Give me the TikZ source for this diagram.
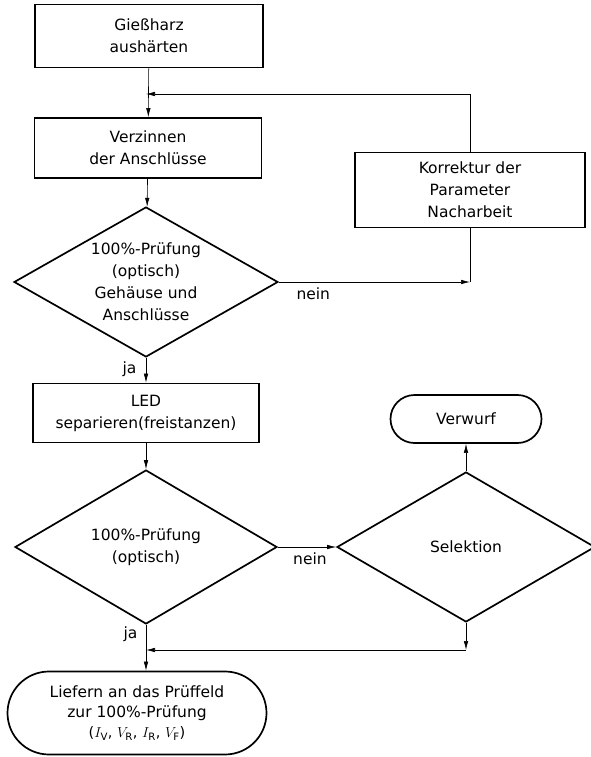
\documentclass[tikz,border=0pt]{standalone}
\usepackage{fontspec}
\setmainfont{DejaVu Sans}
\usetikzlibrary{shapes.geometric,shapes.misc,arrows.meta}
\begin{document}
\begin{tikzpicture}[x=1pt,y=-1pt,
    every node/.style={font=\fontsize{15.5}{22}\selectfont},
    box/.style={draw,line width=1.7pt,align=center,inner sep=2pt},
    rhomb/.style={draw,diamond,line width=1.7pt,align=center,inner sep=0pt,aspect=1.75},
    term/.style={draw,rounded rectangle,line width=1.7pt,align=center,inner sep=2pt},
    flow/.style={line width=0.6pt,-{Latex[length=9pt,width=4.5pt]}},
    link/.style={line width=0.6pt}]
  \useasboundingbox (0,0) rectangle (590,757);
  % left column: the main process
  \node[box,minimum width=228pt,minimum height=63pt] (harz) at (149,36) {Gießharz\\aushärten};
  \node[box,minimum width=227pt,minimum height=60pt] (verz) at (148,148) {Verzinnen\\der Anschlüsse};
  \node[rhomb,minimum width=264pt,minimum height=150pt] (pruef1) at (146,282)
       {100\%-Prüfung\\(optisch)\\Gehäuse und\\Anschlüsse};
  \node[box,minimum width=226pt,minimum height=59pt] (sep) at (146,413) {LED\\separieren(freistanzen)};
  \node[rhomb,minimum width=262pt,minimum height=154pt] (pruef2) at (146,547) {100\%-Prüfung\\(optisch)};
  \node[term,minimum width=263pt,minimum height=83pt,font=\fontsize{15.5}{20}\selectfont] (liefern) at (137,713)
       {Liefern an das Prüffeld\\zur 100\%-Prüfung\\{\fontsize{14.5}{17}\selectfont($I_{\mathrm{V}}$, $V_{\mathrm{R}}$, $I_{\mathrm{R}}$, $V_{\mathrm{F}}$)}};
  % right column: correction and selection
  \node[box,minimum width=230pt,minimum height=75pt] (korr) at (470,190) {Korrektur der\\Parameter\\Nacharbeit};
  \node[term,minimum width=155pt,minimum height=48pt] (verw) at (466,419) {Verwurf};
  \node[rhomb,minimum width=258pt,minimum height=150pt] (sel) at (466,547) {Selektion};
  % joints on the main line
  \coordinate (m1) at (146,94);
  \coordinate (c1) at (470,282);
  \coordinate (c2) at (466,650);
  \coordinate (m2) at (146,650);
  % main flow
  \draw[flow] (harz) -- (verz);
  \draw[flow] (verz) -- (pruef1);
  \draw[flow] (pruef1) -- (sep) node[pos=0.45,left=6pt] {ja};
  \draw[flow] (sep) -- (pruef2);
  \draw[flow] (pruef2.south) -- (pruef2.south |- liefern.north) node[pos=0.2,left=5pt] {ja};
  % first loop: back to tinning
  \draw[flow] (pruef1.east) -- (c1) node[pos=0.18,below=2pt] {nein};
  \draw[link] (c1) -- (korr.south);
  \draw[flow] (korr.north) |- (m1);
  % second loop: selection
  \draw[flow] (pruef2.east) -- (sel.west) node[pos=0.55,below=2pt] {nein};
  \draw[flow] (sel.north) -- (verw.south);
  \draw[flow] (sel.south) -- (c2);
  \draw[flow] (c2) -- (m2);
\end{tikzpicture}
\end{document}
